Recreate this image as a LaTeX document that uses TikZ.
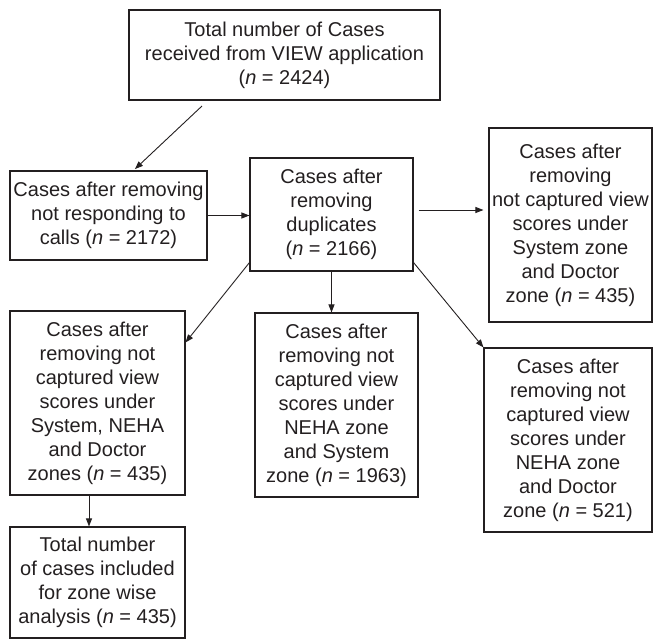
\documentclass[tikz,border=0pt]{standalone}
\usepackage{fontspec}
\setmainfont{Liberation Sans}
\usetikzlibrary{arrows.meta,calc}
\definecolor{ink}{HTML}{231F20}
\begin{document}
\begin{tikzpicture}[x=1pt,y=-1pt,
  box/.style={draw=ink,line width=1.1pt,align=center,inner sep=0pt,text=ink,
    font=\fontsize{20}{24}\selectfont},
  conn/.style={draw=ink,line width=0.9pt,-{Triangle[length=8pt,width=6pt]}}]
\useasboundingbox (0,0) rectangle (654,640);
\node[box,minimum width=311pt,minimum height=90pt] (top) at (284.5,55)
  {Total number of Cases\\received from VIEW application\\(\textit{n} = 2424)};
\node[box,minimum width=197pt,minimum height=89pt] (left1) at (108.5,215.5)
  {Cases after removing\\not responding to\\calls (\textit{n} = 2172)};
\node[box,minimum width=163pt,minimum height=113pt] (dup) at (331.5,214.5)
  {Cases after\\removing\\duplicates\\(\textit{n} = 2166)};
\node[box,minimum width=163pt,minimum height=194pt] (right1) at (570.5,225)
  {Cases after\\removing\\not captured view\\scores under\\System zone\\and Doctor\\zone (\textit{n} = 435)};
\node[box,minimum width=175pt,minimum height=184pt] (left2) at (97.5,403)
  {Cases after\\removing not\\captured view\\scores under\\System, NEHA\\and Doctor\\zones (\textit{n} = 435)};
\node[box,minimum width=163pt,minimum height=184pt] (mid) at (336.5,405)
  {Cases after\\removing not\\captured view\\scores under\\NEHA zone\\and System\\zone (\textit{n} = 1963)};
\node[box,minimum width=168pt,minimum height=184pt] (right2) at (568,440)
  {Cases after\\removing not\\captured view\\scores under\\NEHA zone\\and Doctor\\zone (\textit{n} = 521)};
\node[box,minimum width=175pt,minimum height=111pt] (bottom) at (97.5,582.5)
  {Total number\\of cases included\\for zone wise\\analysis (\textit{n} = 435)};
\coordinate (a1) at (202,106);
\draw[conn,shorten >=2pt] (a1) -- ($(left1.north west)!0.626!(left1.north east)$);
\draw[conn] (left1.east) -- (left1.east -| dup.west);
\draw[conn,shorten <=5pt,shorten >=5pt] (dup.east |- 0,210) -- (right1.west |- 0,210);
\draw[conn] ($(dup.south west)+(0,-9)$) -- ($(left2.north east)+(0,32)$);
\draw[conn] (dup.south) -- (dup.south |- mid.north);
\draw[conn] ($(dup.south east)+(0,-9)$) -- (right2.north west);
\draw[conn] ($(left2.south)+(-8.5,0)$) -- ($(bottom.north)+(-8.5,0)$);
\end{tikzpicture}
\end{document}
